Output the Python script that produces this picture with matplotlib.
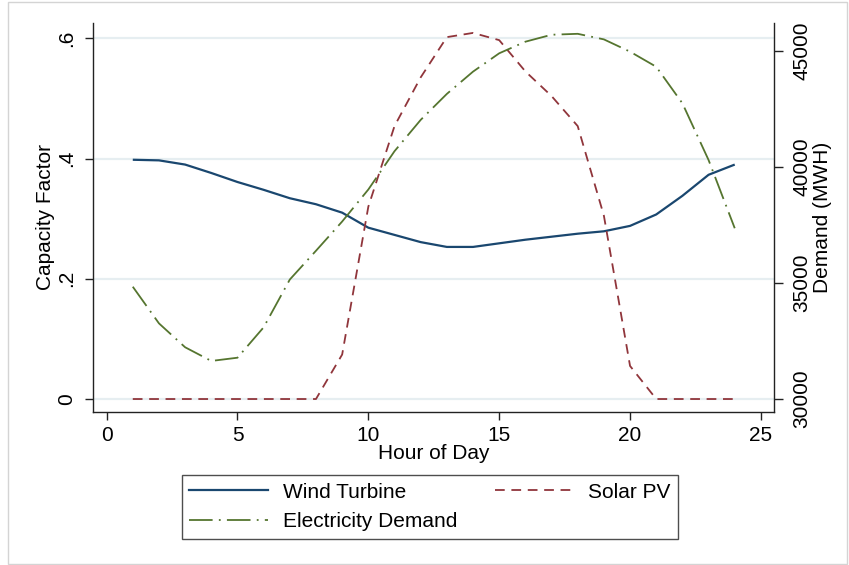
import matplotlib
matplotlib.use("Agg")
import matplotlib.pyplot as plt
from matplotlib.patches import Rectangle
from matplotlib.lines import Line2D

plt.rcParams["font.family"] = ["Liberation Sans", "DejaVu Sans"]
plt.rcParams["lines.scale_dashes"] = False

# Hourly profiles
hours = list(range(1, 25))
wind = [0.398, 0.397, 0.390, 0.376, 0.361, 0.348, 0.334, 0.324, 0.310, 0.285,
        0.273, 0.261, 0.253, 0.253, 0.259, 0.265, 0.270, 0.275, 0.279, 0.288,
        0.307, 0.338, 0.373, 0.390]
solar = [0, 0, 0, 0, 0, 0, 0, 0, 0.074, 0.320, 0.454, 0.535, 0.602, 0.609,
         0.597, 0.545, 0.504, 0.454, 0.305, 0.055, 0, 0, 0, 0]
demand = [34840, 33260, 32230, 31640, 31780, 33090, 35150, 36390, 37650, 39030,
          40680, 42030, 43150, 44110, 44900, 45400, 45700, 45740, 45500, 44970,
          44320, 42745, 40300, 37360]

x_ticks = [0, 5, 10, 15, 20, 25]
cf_ticks = [0, 0.2, 0.4, 0.6]
cf_labels = ["0", ".2", ".4", ".6"]
dem_ticks = [30000, 35000, 40000, 45000]
dem_labels = ["30000", "35000", "40000", "45000"]

NAVY = "#1a476f"
MAROON = "#90353b"
GREEN = "#55752f"
GRID = "#e6eef1"
FS = 15

W, H = 849, 565
fig = plt.figure(figsize=(W / 100, H / 100), dpi=100)
fig.patch.set_facecolor("white")

# outer frame
fig.patches.append(Rectangle((8 / W, 1.5 / H), (847 - 8) / W, (563.5 - 1.5) / H,
                             transform=fig.transFigure, fill=False,
                             edgecolor="#d4d4d4", linewidth=1.0))

l, r, t, b = 93, 774, 22.7, 412
ax = fig.add_axes([l / W, 1 - b / H, (r - l) / W, (b - t) / H])
ax2 = ax.twinx()

ax.set_xlim(-0.52, 25.5)
ax.set_ylim(-0.0216, 0.626)
ax2.set_ylim(29440, 46219)

for a in (ax, ax2):
    a.spines["top"].set_visible(False)
    for s in ("left", "right", "bottom"):
        a.spines[s].set_color("#222222")
        a.spines[s].set_linewidth(1.0)
    a.set_facecolor("none")

ax.spines["right"].set_visible(False)
ax2.spines["left"].set_visible(False)
ax2.spines["bottom"].set_visible(False)

for yv in cf_ticks:
    ax.axhline(yv, color=GRID, linewidth=1.6, zorder=0)

ax.plot(hours, wind, color=NAVY, linewidth=1.6, solid_capstyle="butt", zorder=3)
ax.plot(hours, solar, color=MAROON, linewidth=1.3, linestyle=(0, (7.0, 4.8)), zorder=3)
ax2.plot(hours, demand, color=GREEN, linewidth=1.3,
         linestyle=(0, (17.0, 4.5, 1.3, 4.5)), zorder=3)

ax.set_xticks(x_ticks)
ax.set_xticklabels([str(v) for v in x_ticks], fontsize=FS)
ax.set_yticks(cf_ticks)
ax.set_yticklabels(cf_labels, fontsize=FS, rotation=90, va="center")
ax2.set_yticks(dem_ticks)
ax2.set_yticklabels(dem_labels, fontsize=FS, rotation=90, va="center")

ax.tick_params(axis="x", length=6, width=1, color="#222222", pad=4)
ax.tick_params(axis="y", length=6, width=1, color="#222222", pad=6)
ax2.tick_params(axis="y", length=6.5, width=1, color="#222222", pad=7)

ax.set_xlabel("Hour of Day", fontsize=FS)
ax.xaxis.set_label_coords(0.5, (412 - 444) / (412 - 22.7))
ax.set_ylabel("Capacity Factor", fontsize=FS, labelpad=2)
ax2.set_ylabel("Demand (MWH)", fontsize=FS, rotation=90)
ax2.yaxis.set_label_coords((813 - 93) / (774 - 93), 0.5)

handles = [
    Line2D([], [], color=NAVY, linewidth=1.6),
    Line2D([], [], color=GREEN, linewidth=1.3, linestyle=(0, (17.0, 4.5, 1.3, 4.5))),
    Line2D([], [], color=MAROON, linewidth=1.3, linestyle=(0, (7.0, 4.8))),
]
labels = ["Wind Turbine", "Electricity Demand", "Solar PV"]
leg = fig.legend(handles, labels, ncol=2, loc="center",
                 bbox_to_anchor=(430 / W, 1 - 507 / H), fontsize=FS,
                 frameon=True, fancybox=False, edgecolor="#222222",
                 handlelength=3.8, handletextpad=0.7, columnspacing=1.8,
                 labelspacing=0.5, borderpad=0.36, borderaxespad=0)
leg.get_frame().set_linewidth(1.0)

fig.savefig("out.png", dpi=100, facecolor="white")
